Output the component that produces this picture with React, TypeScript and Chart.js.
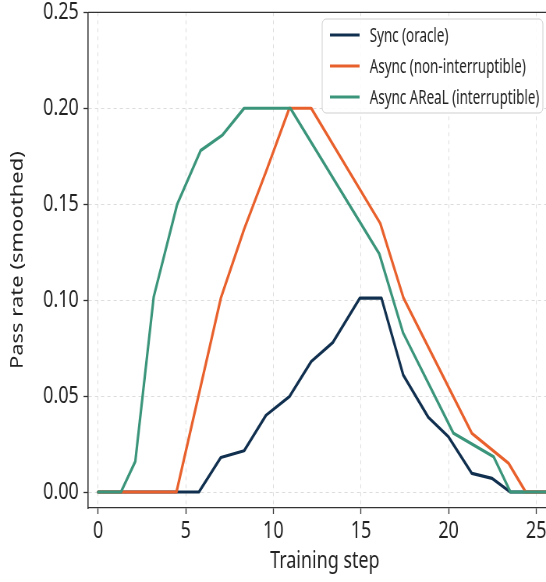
import React, { useEffect, useRef } from "react";
import { Chart, registerables } from "chart.js";

Chart.register(...registerables);

// ---- data ----
const syncSteps = [0, 4.47, 5.75, 7.0, 8.33, 9.58, 10.91, 12.16, 13.4, 14.93, 16.17, 17.41, 18.84, 19.99, 21.33, 22.48, 23.53, 27];
const syncValues = [0, 0, 0, 0.018, 0.0215, 0.04, 0.0497, 0.068, 0.078, 0.101, 0.101, 0.061, 0.039, 0.0288, 0.0097, 0.0071, 0, 0];

const asyncSteps = [0, 4.47, 7.0, 8.33, 9.58, 10.91, 12.16, 16.1, 17.43, 21.33, 23.43, 24.4, 27];
const asyncValues = [0, 0, 0.101, 0.137, 0.167, 0.2, 0.2, 0.14, 0.101, 0.0306, 0.0149, 0, 0];

const arealSteps = [0, 1.3, 2.12, 3.17, 4.51, 5.85, 7.09, 8.33, 10.97, 16.05, 17.4, 20.28, 22.57, 23.53, 27];
const arealValues = [0, 0, 0.016, 0.1017, 0.15, 0.178, 0.186, 0.2, 0.2, 0.124, 0.083, 0.0306, 0.0184, 0, 0];

const seriesLabels = ["Sync (oracle)", "Async (non-interruptible)", "Async AReaL (interruptible)"];
const seriesColors = ["#11304f", "#e8602c", "#3b957a"];

const xTickValues = [0, 5, 10, 15, 20, 25];
const yTickValues = [0, 0.05, 0.1, 0.15, 0.2, 0.25];

const xTitle = "Training step";
const yTitle = "Pass rate (smoothed)";

const SQUISH = 0.78;
const CANVAS_W = 720;
const CANVAS_H = 582;
const FONT = "'Noto Sans', sans-serif";

const toPoints = (xs: number[], ys: number[]) => xs.map((x, i) => ({ x, y: ys[i] }));

const frameAndLegend = {
  id: "frameAndLegend",
  afterDraw(chart: any) {
    const { ctx, chartArea } = chart;
    ctx.save();
    // top frame line
    ctx.strokeStyle = "#333333";
    ctx.lineWidth = 1.3;
    ctx.beginPath();
    ctx.moveTo(chartArea.left, chartArea.top);
    ctx.lineTo(chartArea.right, chartArea.top);
    ctx.stroke();

    // legend box
    const bx = 413, by = 19, bw = 283, bh = 94;
    ctx.fillStyle = "rgba(255,255,255,0.88)";
    ctx.strokeStyle = "#cfcfcf";
    ctx.lineWidth = 1;
    ctx.beginPath();
    (ctx as any).roundRect(bx, by, bw, bh, 5);
    ctx.fill();
    ctx.stroke();

    const rows = [35, 66, 97];
    ctx.font = `19.5px ${FONT}`;
    ctx.textBaseline = "middle";
    ctx.textAlign = "left";
    seriesLabels.forEach((label, i) => {
      ctx.strokeStyle = seriesColors[i];
      ctx.lineWidth = 3.2;
      ctx.beginPath();
      ctx.moveTo(423, rows[i]);
      ctx.lineTo(461, rows[i]);
      ctx.stroke();
      ctx.fillStyle = "#222222";
      ctx.save();
      ctx.translate(474, rows[i] + 1);
      ctx.scale(0.88, 1);
      ctx.fillText(label, 0, 0);
      ctx.restore();
    });
    ctx.restore();
  },
};

export default function App() {
  const ref = useRef<HTMLCanvasElement>(null);

  useEffect(() => {
    document.body.style.margin = "0";
    const canvas = ref.current;
    if (!canvas) return;

    const datasets = [
      { label: seriesLabels[0], data: toPoints(syncSteps, syncValues), borderColor: seriesColors[0], order: 3 },
      { label: seriesLabels[1], data: toPoints(asyncSteps, asyncValues), borderColor: seriesColors[1], order: 2 },
      { label: seriesLabels[2], data: toPoints(arealSteps, arealValues), borderColor: seriesColors[2], order: 1 },
    ].map((d) => ({
      ...d,
      borderWidth: 3.2,
      pointRadius: 0,
      tension: 0,
      fill: false,
      borderJoinStyle: "round" as const,
      borderCapStyle: "round" as const,
    }));

    const chart = new Chart(canvas, {
      type: "line",
      data: { datasets },
      options: {
        animation: false,
        responsive: false,
        maintainAspectRatio: false,
        layout: { padding: { top: 0, left: 0, right: 0, bottom: 0 } },
        plugins: {
          legend: { display: false },
          tooltip: { enabled: false },
        },
        scales: {
          x: {
            type: "linear",
            min: -0.572,
            max: 26.45,
            afterBuildTicks: (scale: any) => {
              scale.ticks = xTickValues.map((v) => ({ value: v }));
            },
            afterFit: (scale: any) => {
              scale.height = 74;
            },
            ticks: {
              color: "#222222",
              font: { family: FONT, size: 23 },
              padding: 4,
              maxRotation: 0,
              callback: (v: any) => String(v),
            },
            grid: {
              color: "#dcdcdc",
              lineWidth: 1,
              drawTicks: true,
              tickLength: 6,
              tickColor: "#333333",
              tickWidth: 1.3,
            },
            border: { display: true, color: "#333333", width: 1.3, dash: [4, 4] },
            title: {
              display: true,
              text: xTitle,
              color: "#222222",
              font: { family: FONT, size: 23 },
              padding: { top: 0, bottom: 7 },
            },
          },
          y: {
            type: "linear",
            min: -0.00833,
            max: 0.25,
            afterBuildTicks: (scale: any) => {
              scale.ticks = yTickValues.map((v) => ({ value: v }));
            },
            afterFit: (scale: any) => {
              scale.width = 113;
            },
            ticks: {
              color: "#222222",
              font: { family: FONT, size: 23, lineHeight: 0.55 },
              padding: 6,
              callback: (v: any) => Number(v).toFixed(2),
            },
            grid: {
              color: "#dcdcdc",
              lineWidth: 1,
              drawTicks: true,
              tickLength: 6,
              tickColor: "#333333",
              tickWidth: 1.3,
            },
            border: { display: true, color: "#333333", width: 1.6, dash: [4, 4] },
            title: {
              display: true,
              text: yTitle,
              color: "#222222",
              font: { family: FONT, size: 22 },
              padding: { top: 10, bottom: 0 },
            },
          },
        },
      },
      plugins: [frameAndLegend],
    });

    return () => chart.destroy();
  }, []);

  return (
    <div style={{ width: 546, height: CANVAS_H, overflow: "hidden", position: "relative" }}>
      <div
        style={{
          width: CANVAS_W,
          height: CANVAS_H,
          transform: `scaleX(${SQUISH})`,
          transformOrigin: "0 0",
        }}
      >
        <canvas ref={ref} width={CANVAS_W} height={CANVAS_H} style={{ display: "block" }} />
      </div>
    </div>
  );
}
